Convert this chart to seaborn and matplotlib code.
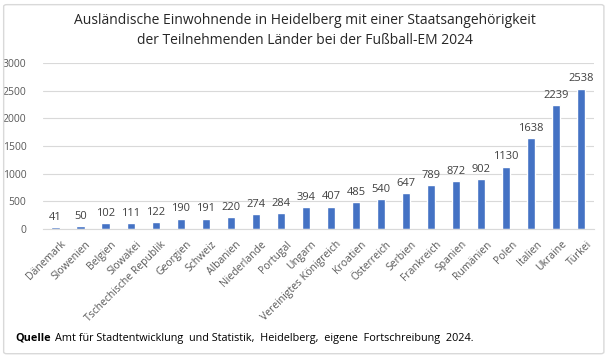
import matplotlib
matplotlib.use("Agg")
import matplotlib.pyplot as plt
import matplotlib.transforms as mtrans
import seaborn as sns
import pandas as pd
from matplotlib.patches import FancyBboxPatch

laender = ["Dänemark", "Slowenien", "Belgien", "Slowakei", "Tschechische Republik",
           "Georgien", "Schweiz", "Albanien", "Niederlande", "Portugal", "Ungarn",
           "Vereinigtes Königreich", "Kroatien", "Österreich", "Serbien", "Frankreich",
           "Spanien", "Rumänien", "Polen", "Italien", "Ukraine", "Türkei"]
einwohnende = [41, 50, 102, 111, 122, 190, 191, 220, 274, 284, 394, 407, 485, 540,
               647, 789, 872, 902, 1130, 1638, 2239, 2538]
y_ticks = [0, 500, 1000, 1500, 2000, 2500, 3000]

df = pd.DataFrame({"Land": laender, "Anzahl": einwohnende})

sns.set_style("white")
plt.rcParams["font.family"] = ["Open Sans", "DejaVu Sans"]

fig = plt.figure(figsize=(6.1, 3.58), dpi=100)
ax = fig.add_axes([0.0705, 0.360, 0.903, 0.464])

sns.barplot(data=df, x="Land", y="Anzahl", color="#4472C4", width=0.33,
            saturation=1, ax=ax)
ax.bar_label(ax.containers[0], padding=3, fontsize=8, color="#404040")

ax.set_ylim(0, 3000)
ax.set_yticks(y_ticks)
ax.set_xlim(-0.5, len(laender) - 0.5)
ax.yaxis.grid(True, color="#d9d9d9", linewidth=0.8)
ax.set_axisbelow(True)
for s in ["top", "right", "left"]:
    ax.spines[s].set_visible(False)
ax.spines["bottom"].set_color("#d9d9d9")
ax.tick_params(axis="both", length=0, labelsize=7.5, labelcolor="#595959")
ax.tick_params(axis="y", pad=12)
ax.tick_params(axis="x", pad=7)
# Beschriftung etwas nach rechts, wie im Original
shift = mtrans.ScaledTranslation(0.05, 0, fig.dpi_scale_trans)
for lbl in ax.get_xticklabels():
    lbl.set_rotation(45)
    lbl.set_ha("right")
    lbl.set_rotation_mode("anchor")
    lbl.set_transform(lbl.get_transform() + shift)
ax.set_xlabel("")
ax.set_ylabel("")

# Titel, zwei Zeilen
fig.text(0.5, 1 - 20 / 358, "Ausländische Einwohnende in Heidelberg mit einer Staatsangehörigkeit",
         ha="center", va="center", fontsize=10, color="#262626")
fig.text(0.5, 1 - 41 / 358, "der Teilnehmenden Länder bei der Fußball-EM 2024",
         ha="center", va="center", fontsize=10, color="#262626")

# Rahmen
fig.patches.append(FancyBboxPatch((0.006, 0.012), 0.984, 0.975, boxstyle="round,pad=0,rounding_size=0.005",
                                  transform=fig.transFigure, fill=False,
                                  edgecolor="#d9d9d9", linewidth=1))

# Quelle
t1 = fig.text(0.026, 1 - 338 / 358, "Quelle", fontsize=7.8, fontweight="bold",
              color="black", va="center")
fig.canvas.draw()
bb = t1.get_window_extent()
fig.text(bb.x1 / fig.bbox.width + 0.005, 1 - 338 / 358,
         "Amt für Stadtentwicklung  und Statistik,  Heidelberg,  eigene  Fortschreibung  2024.",
         fontsize=7.8, color="black", va="center")

fig.savefig("out.png", dpi=100)
